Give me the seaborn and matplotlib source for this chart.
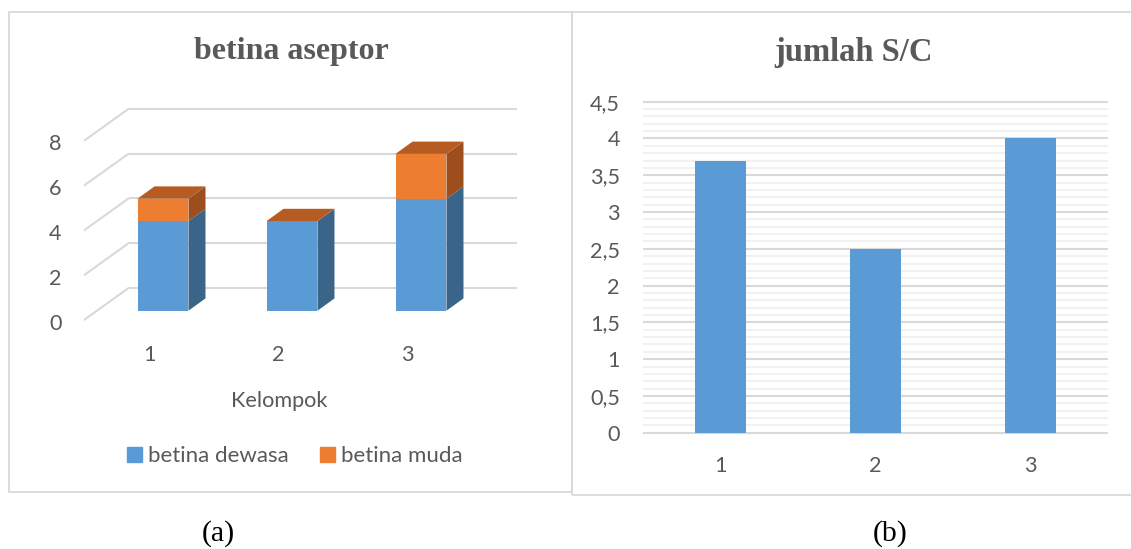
import matplotlib
matplotlib.use("Agg")
import matplotlib.pyplot as plt
from matplotlib.patches import Rectangle, Patch
from matplotlib.ticker import MultipleLocator
import seaborn as sns
import pandas as pd
import numpy as np

# ---------------- data ----------------
kelompok = ["1", "2", "3"]
betina_dewasa = [4, 4, 5]
betina_muda = [1, 0, 2]
sc_kelompok = ["1", "2", "3"]
jumlah_sc = [3.7, 2.5, 4.0]
left_yticks = [0, 2, 4, 6, 8]
right_yticks = [0, 0.5, 1, 1.5, 2, 2.5, 3, 3.5, 4, 4.5]

# ---------------- style ----------------
sns.set_theme(style="white")
plt.rcParams["font.family"] = ["Lato", "DejaVu Sans"]
GRAY_TXT = "#595959"
BLUE = "#5B9BD5"
BLUE_SIDE = "#3B6489"
ORANGE = "#ED7D31"
ORANGE_SIDE = "#9C4E1C"
ORANGE_TOP = "#B65C22"
GRID = "#D9D9D9"
GRID_MINOR = "#F0F0F0"
TICK_FS = 15.6
SERIF = ["Liberation Serif", "DejaVu Serif"]

W, H = 1131, 549
fig = plt.figure(figsize=(W / 100, H / 100), dpi=100)
fig.patch.set_facecolor("white")


def px_axes(x0, y0, x1, y1):
    return fig.add_axes([x0 / W, 1 - y1 / H, (x1 - x0) / W, (y1 - y0) / H])


# panel frames
fig.add_artist(Rectangle((8.5 / W, 1 - 492 / H), (572 - 8.5) / W, (492 - 12) / H,
                         transform=fig.transFigure, fill=False, ec=GRID, lw=1.3))
fig.add_artist(Rectangle((572 / W, 1 - 494.5 / H), (1140 - 572) / W, (494.5 - 12) / H,
                         transform=fig.transFigure, fill=False, ec=GRID, lw=1.3))

# ---------------- left panel (pseudo 3D stacked bars) ----------------
axL = px_axes(84, 100, 517, 330)
df_left = pd.DataFrame({"kelompok": kelompok,
                        "dewasa": betina_dewasa,
                        "muda": betina_muda})
df_left["total"] = df_left["dewasa"] + df_left["muda"]

BW = 0.395
sns.barplot(data=df_left, x="kelompok", y="total", color=ORANGE, saturation=1,
            width=BW, ax=axL, zorder=3, linewidth=0)
sns.barplot(data=df_left, x="kelompok", y="dewasa", color=BLUE, saturation=1,
            width=BW, ax=axL, zorder=3, linewidth=0)

# axis mapping: 129 px per category, 22.4 px per unit
axL.set_xlim((84 - 163) / 129, (517 - 163) / 129)
axL.set_ylim((310.7 - 330) / 22.4, (310.7 - 100) / 22.4)

# depth constants (data units)
DX_FULL, DY_FULL = 44.6 / 129, 32.0 / 22.4
FRONT_Y = -9.3 / 22.4
FRONT_X = (84 - 163) / 129
BACK_X = FRONT_X + DX_FULL
BACK_Y = FRONT_Y + DY_FULL
XR = (517 - 163) / 129
bdx, bdy = 17 / 129, 12.3 / 22.4

# back wall grid + floor diagonals
for v in left_yticks:
    axL.plot([BACK_X, XR], [v + BACK_Y, v + BACK_Y], color=GRID, lw=1.5, zorder=0,
             solid_capstyle="butt")
    axL.plot([FRONT_X, BACK_X], [v + FRONT_Y, v + BACK_Y], color=GRID, lw=1.5, zorder=0)

# 3D faces computed from the bar patches
blue_patches = axL.patches[len(kelompok):]
for i, p in enumerate(blue_patches):
    x0 = p.get_x()
    w = p.get_width()
    x1 = x0 + w
    d = betina_dewasa[i]
    t = betina_dewasa[i] + betina_muda[i]
    axL.fill([x1, x1 + bdx, x1 + bdx, x1], [0, bdy, d + bdy, d], color=BLUE_SIDE,
             lw=0, zorder=3)
    if betina_muda[i] > 0:
        axL.fill([x1, x1 + bdx, x1 + bdx, x1], [d, d + bdy, t + bdy, t],
                 color=ORANGE_SIDE, lw=0, zorder=3)
    axL.fill([x0, x0 + bdx, x1 + bdx, x1], [t, t + bdy, t + bdy, t],
             color=ORANGE_TOP, lw=0, zorder=3)

axL.set_yticks([v + FRONT_Y - 0.07 for v in left_yticks])
axL.set_yticklabels([str(v) for v in left_yticks])
axL.set_xticks([k - 14 / 129 for k in range(len(kelompok))])
axL.set_xticklabels(kelompok)
axL.tick_params(axis="y", length=0, pad=16, labelsize=TICK_FS, labelcolor=GRAY_TXT)
axL.tick_params(axis="x", length=0, pad=10.5, labelsize=TICK_FS, labelcolor=GRAY_TXT)
axL.set_xlabel("")
axL.set_ylabel("")
for s in axL.spines.values():
    s.set_visible(False)
axL.set_facecolor("none")

fig.text(279 / W, 1 - 401 / H, "Kelompok", ha="center", va="center",
         fontsize=TICK_FS, color=GRAY_TXT)

handles = [Patch(color=BLUE), Patch(color=ORANGE)]
fig.legend(handles, ["betina dewasa", "betina muda"], loc="center",
           bbox_to_anchor=(295 / W, 1 - 456 / H), ncol=2, frameon=False,
           handlelength=0.65, handleheight=0.65, handletextpad=0.3,
           columnspacing=1.4, fontsize=16, labelcolor=GRAY_TXT)

fig.text(291 / W, 1 - 52 / H, "betina aseptor", ha="center", va="center",
         fontsize=23, fontweight="bold", color=GRAY_TXT, family=SERIF)

# ---------------- right panel ----------------
PXU = (432.7 - 101.7) / 4.5
axR = px_axes(643, 100.0, 1108, 434.5)
df_right = pd.DataFrame({"kelompok": sc_kelompok, "sc": jumlah_sc})
sns.barplot(data=df_right, x="kelompok", y="sc", color=BLUE, saturation=1,
            width=0.335, ax=axR, zorder=3, linewidth=0)
axR.set_xlim(-0.5, len(sc_kelompok) - 0.5)
axR.set_ylim(-(434.5 - 432.7) / PXU, 4.5 + (101.7 - 100.0) / PXU)
axR.set_yticks(right_yticks)
axR.set_yticklabels([f"{v:g}".replace(".", ",") for v in right_yticks])
axR.yaxis.set_minor_locator(MultipleLocator(0.1))
axR.grid(which="major", axis="y", color=GRID, lw=1.5, zorder=0)
axR.grid(which="minor", axis="y", color=GRID_MINOR, lw=1.3, zorder=0)
axR.set_axisbelow(True)
axR.tick_params(axis="y", which="both", length=0, pad=16.5, labelsize=TICK_FS,
                labelcolor=GRAY_TXT)
axR.tick_params(axis="x", length=0, pad=15.5, labelsize=TICK_FS, labelcolor=GRAY_TXT)
axR.set_xlabel("")
axR.set_ylabel("")
for s in axR.spines.values():
    s.set_visible(False)
axR.set_facecolor("none")

fig.text(854 / W, 1 - 52 / H, "jumlah S/C", ha="center", va="center",
         fontsize=23.5, fontweight="bold", color=GRAY_TXT, family=SERIF)

fig.text(218 / W, 1 - 534 / H, "(a)", ha="center", va="center", fontsize=21.5,
         color="black", family=SERIF)
fig.text(890 / W, 1 - 534 / H, "(b)", ha="center", va="center", fontsize=21.5,
         color="black", family=SERIF)

fig.savefig("out.png", dpi=100, facecolor="white")
